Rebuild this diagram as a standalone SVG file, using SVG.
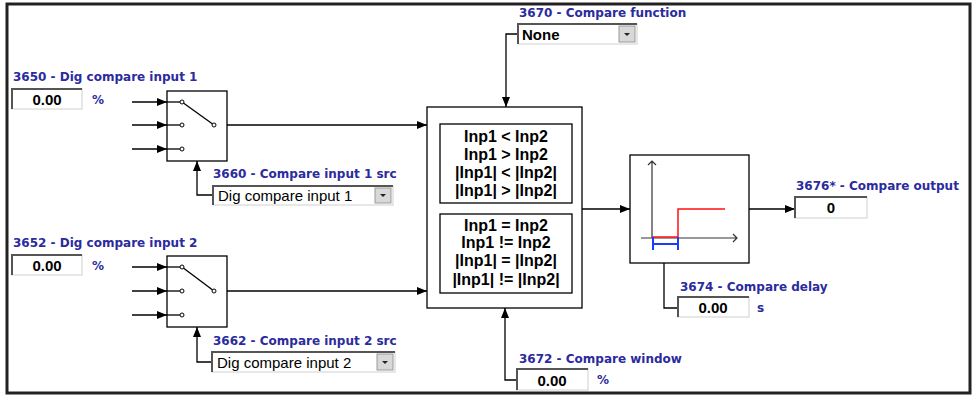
<svg xmlns="http://www.w3.org/2000/svg" width="977" height="395" viewBox="0 0 977 395">
<defs>
<marker id="ah" markerUnits="userSpaceOnUse" markerWidth="10" markerHeight="8" refX="10" refY="4" orient="auto"><path d="M0,0 L10,4 L0,8 z" fill="#000"/></marker>
</defs>
<style>
.lbl{font-family:"DejaVu Sans",Verdana,sans-serif;font-weight:bold;font-size:12px;fill:#2b2b9e}
.val{font-family:"Liberation Sans",Arial,sans-serif;font-weight:bold;font-size:15px;fill:#000;text-anchor:middle}
.dd{font-family:"Liberation Sans",Arial,sans-serif;font-size:15px;fill:#000}
.cmp{font-family:"Liberation Sans",Arial,sans-serif;font-weight:bold;font-size:16px;fill:#000;text-anchor:middle}
.box{fill:#fff;stroke:#000;stroke-width:1.3}
.ln{fill:none;stroke:#000;stroke-width:1.3}
.field{fill:#fff;stroke:#cfcfcf;stroke-width:1}
.inset{fill:none;stroke:#555;stroke-width:2}
.btn{fill:#d8d8d8;stroke:#9a9a9a;stroke-width:1}
.tri{fill:#222}
.dot{fill:#fff;stroke:#000;stroke-width:1}
.axis{fill:none;stroke:#333;stroke-width:1.2}
</style>
<rect x="7" y="4" width="963" height="389" fill="#fff" stroke="#222" stroke-width="3"/>

<g id="connectors">
<path class="ln" d="M132,102 H167" marker-end="url(#ah)"/>
<path class="ln" d="M132,125 H167" marker-end="url(#ah)"/>
<path class="ln" d="M132,149 H167" marker-end="url(#ah)"/>
<path class="ln" d="M132,267 H167" marker-end="url(#ah)"/>
<path class="ln" d="M132,291 H167" marker-end="url(#ah)"/>
<path class="ln" d="M132,315 H167" marker-end="url(#ah)"/>
<path class="ln" d="M216,125 H427" marker-end="url(#ah)"/>
<path class="ln" d="M216,291 H427" marker-end="url(#ah)"/>
<path class="ln" d="M213,195 H197 V161" marker-end="url(#ah)"/>
<path class="ln" d="M212,362 H197 V327" marker-end="url(#ah)"/>
<path class="ln" d="M518,34 H506 V107" marker-end="url(#ah)"/>
<path class="ln" d="M517,380 H505 V308" marker-end="url(#ah)"/>
<path class="ln" d="M582,209 H630" marker-end="url(#ah)"/>
<path class="ln" d="M678,308 H664 V245" marker-end="url(#ah)"/>
<path class="ln" d="M749,209 H795" marker-end="url(#ah)"/>
</g>

<g id="input1">
<text class="lbl" x="13" y="81">3650 - Dig compare input 1</text>
<rect class="field" x="12" y="89" width="70" height="20"/>
<path class="inset" d="M12,109 V89 H82"/>
<text class="val" x="47" y="105">0.00</text>
<text class="lbl" x="92" y="104">%</text>
</g>

<g id="switch1">
<rect class="box" x="167" y="91" width="60" height="70"/>
<line class="ln" x1="182" y1="102" x2="214" y2="125"/>
<line class="ln" x1="167" y1="102" x2="180" y2="102"/>
<line class="ln" x1="167" y1="125" x2="180" y2="125"/>
<line class="ln" x1="167" y1="149" x2="180" y2="149"/>
<circle class="dot" cx="182" cy="102" r="2"/>
<circle class="dot" cx="182" cy="125" r="2"/>
<circle class="dot" cx="182" cy="149" r="2"/>
<circle class="dot" cx="214" cy="125" r="2"/>
</g>

<g id="src1">
<text class="lbl" x="213" y="178">3660 - Compare input 1 src</text>
<rect class="field" x="213" y="186" width="180" height="19"/>
<path class="inset" d="M213,205 V186 H393"/>
<text class="dd" x="218" y="201">Dig compare input 1</text>
<rect class="btn" x="375" y="188" width="16" height="15"/>
<path class="tri" d="M380,194 h6 l-3,3 z"/>
</g>

<g id="input2">
<text class="lbl" x="13" y="247">3652 - Dig compare input 2</text>
<rect class="field" x="12" y="255" width="70" height="20"/>
<path class="inset" d="M12,275 V255 H82"/>
<text class="val" x="47" y="271">0.00</text>
<text class="lbl" x="92" y="270">%</text>
</g>

<g id="switch2">
<rect class="box" x="167" y="256" width="60" height="71"/>
<line class="ln" x1="182" y1="267" x2="214" y2="291"/>
<line class="ln" x1="167" y1="267" x2="180" y2="267"/>
<line class="ln" x1="167" y1="291" x2="180" y2="291"/>
<line class="ln" x1="167" y1="315" x2="180" y2="315"/>
<circle class="dot" cx="182" cy="267" r="2"/>
<circle class="dot" cx="182" cy="291" r="2"/>
<circle class="dot" cx="182" cy="315" r="2"/>
<circle class="dot" cx="214" cy="291" r="2"/>
</g>

<g id="src2">
<text class="lbl" x="213" y="345">3662 - Compare input 2 src</text>
<rect class="field" x="212" y="352" width="183" height="20"/>
<path class="inset" d="M212,372 V352 H395"/>
<text class="dd" x="217" y="368">Dig compare input 2</text>
<rect class="btn" x="377" y="354" width="16" height="16"/>
<path class="tri" d="M382,361 h6 l-3,3 z"/>
</g>

<g id="function">
<text class="lbl" x="519" y="17">3670 - Compare function</text>
<rect class="field" x="518" y="24" width="119" height="20"/>
<path class="inset" d="M518,44 V24 H637"/>
<text class="dd" x="522" y="40" font-weight="bold">None</text>
<rect class="btn" x="619" y="26" width="16" height="16"/>
<path class="tri" d="M624,33 h6 l-3,3 z"/>
</g>

<g id="compare">
<rect class="box" x="427" y="107" width="155" height="201"/>
<rect class="box" x="440" y="124" width="132" height="79"/>
<rect class="box" x="440" y="214" width="132" height="79"/>
<text class="cmp" x="506" y="142">Inp1 &lt; Inp2</text>
<text class="cmp" x="506" y="160">Inp1 &gt; Inp2</text>
<text class="cmp" x="506" y="178">|Inp1| &lt; |Inp2|</text>
<text class="cmp" x="506" y="196">|Inp1| &gt; |Inp2|</text>
<text class="cmp" x="506" y="231">Inp1 = Inp2</text>
<text class="cmp" x="506" y="248">Inp1 != Inp2</text>
<text class="cmp" x="506" y="266">|Inp1| = |Inp2|</text>
<text class="cmp" x="506" y="285">|Inp1| != |Inp2|</text>
</g>

<g id="window">
<text class="lbl" x="519" y="363">3672 - Compare window</text>
<rect class="field" x="517" y="369" width="71" height="21"/>
<path class="inset" d="M517,390 V369 H588"/>
<text class="val" x="552" y="386">0.00</text>
<text class="lbl" x="597" y="384">%</text>
</g>

<g id="delayblock">
<rect class="box" x="630" y="155" width="119" height="108"/>
<path class="axis" d="M652,238 V161 M648,165 L652,161 L656,165"/>
<path class="axis" d="M641,238 H737 M733,234 L737,238 L733,242"/>
<path d="M652,237 H678 V209 H725" fill="none" stroke="#ff1010" stroke-width="1.5"/>
<path d="M653,237 V250 M678,237 V250 M653,244 H678" fill="none" stroke="#1a3cff" stroke-width="2"/>
</g>

<g id="delay">
<text class="lbl" x="680" y="291">3674 - Compare delay</text>
<rect class="field" x="678" y="297" width="71" height="20"/>
<path class="inset" d="M678,317 V297 H749"/>
<text class="val" x="713" y="313">0.00</text>
<text class="lbl" x="757" y="312">s</text>
</g>

<g id="output">
<text class="lbl" x="796" y="190">3676* - Compare output</text>
<rect class="field" x="795" y="197" width="72" height="21"/>
<path class="inset" d="M795,218 V197 H867"/>
<text class="val" x="831" y="213">0</text>
</g>
</svg>
